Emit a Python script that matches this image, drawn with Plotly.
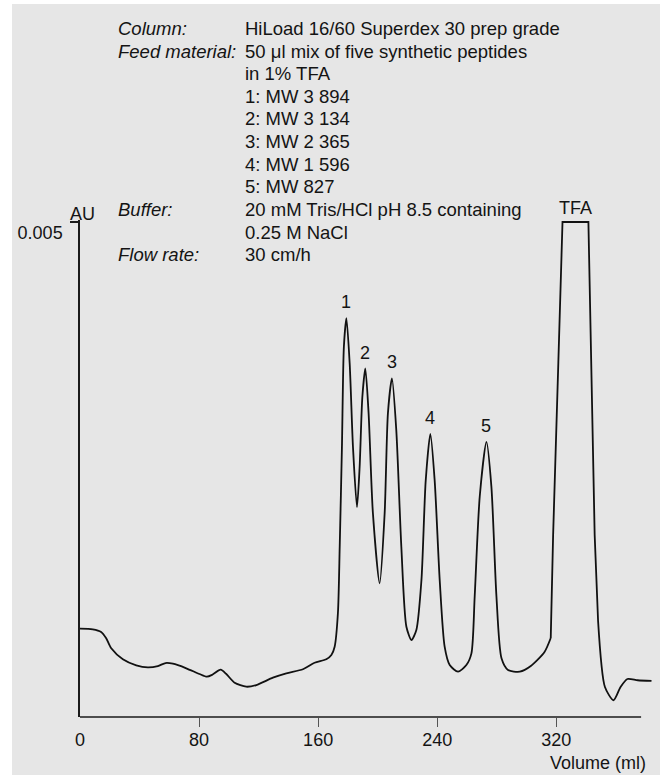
import numpy as np
import plotly.graph_objects as go

# ---------------- data ----------------
volume_ml = [0, 8.6, 14.2, 17.6, 21, 28.8, 37.8, 45.6, 52.3, 57.5, 62.4, 71.4, 80.3, 85.3, 88.9,
             94.5, 98.3, 103.9, 111.7, 118.5, 129.6, 138.6, 149.8, 157.6, 165.5, 168.9,
             171.1, 173.3, 174.5, 176, 177.3, 179, 181.2, 183.4, 186.1, 187.9, 189.7, 191.7,
             193.9, 196.8, 201.3, 204.7, 206.9, 209.6, 212.5, 215.9, 219.3, 222.7, 226,
             229.4, 232.3, 235.4, 238.3, 241.7, 245, 248.4, 254, 259.6, 263, 265.2, 268.6,
             273.1, 276.4, 279.8, 283.2, 287.6, 295.5, 302.9, 312.1, 316.3, 317.9, 321.4,
             324.2, 341.6, 343.5, 345.8, 348.1, 352.7, 358.5, 363.2, 367.8, 374.7, 384]
absorbance_au = [0.000892, 0.000886, 0.000859, 0.000795, 0.000694, 0.000583, 0.000522, 0.000502,
                 0.000515, 0.000545, 0.000538, 0.000492, 0.000434, 0.000407, 0.000427, 0.000478,
                 0.000434, 0.000346, 0.000306, 0.000323, 0.000397, 0.000441, 0.000482, 0.000548,
                 0.000583, 0.000626,
                 0.00071, 0.00105, 0.00172, 0.00273, 0.00374, 0.00403, 0.00357, 0.00273, 0.00212,
                 0.00253, 0.00323, 0.00352, 0.00307, 0.00206, 0.00135, 0.00206, 0.00307, 0.00342,
                 0.0029, 0.00172, 0.000912, 0.000778, 0.000879, 0.00138, 0.00239, 0.00286,
                 0.00239, 0.00138, 0.00071, 0.000525, 0.000458, 0.000525, 0.000643, 0.00122,
                 0.00223, 0.00278, 0.00233, 0.00122, 0.000593, 0.000475, 0.000458, 0.000515,
                 0.000657, 0.000798, 0.00184, 0.00358, 0.005, 0.005, 0.00358, 0.00184, 0.00097,
                 0.000303, 0.000169, 0.000303, 0.000384, 0.000371, 0.000364]

# the saturated TFA peak (detector off-scale) is drawn with straight segments
tfa_start_ml, tfa_end_ml = 316.3, 348.1

peak_labels = ["1", "2", "3", "4", "5", "TFA"]
peak_volumes = [179, 191.7, 209.6, 235.4, 273.1, 333]

x_tick_values = [0, 80, 160, 240, 320]
x_tick_labels = ["0", "80", "160", "240", "320"]
y_tick_values = [0.005]
y_tick_labels = ["0.005"]

info_labels = ["Column:", "Feed material:", "", "", "", "", "", "", "Buffer:", "", "Flow rate:"]
info_values = ["HiLoad 16/60 Superdex 30 prep grade",
               "50 \u03bcl mix of five synthetic peptides",
               "in 1% TFA",
               "1: MW 3 894", "2: MW 3 134", "3: MW 2 365", "4: MW 1 596", "5: MW 827",
               "20 mM Tris/HCl pH 8.5 containing",
               "0.25 M NaCl",
               "30 cm/h"]

# ---------------- layout geometry ----------------
W, H = 660, 777
ML, MR, MT, MB = 80, 7, 220, 60
PW, PH = W - ML - MR, H - MT - MB
X_MAX = 385
Y_MAX = 0.005 * PH / 495.0


def px(x):
    return (x - ML) / PW


def py(y):
    return (MT + PH - y) / PH


FONT = "Liberation Sans, Arial, Helvetica, sans-serif"
TXT = "#141414"
LINE = dict(color="#111111", width=1.8)

i0 = volume_ml.index(tfa_start_ml)
i1 = volume_ml.index(tfa_end_ml)
segments = [
    (volume_ml[:i0 + 1], absorbance_au[:i0 + 1], "spline"),
    (volume_ml[i0:i1 + 1], absorbance_au[i0:i1 + 1], "linear"),
    (volume_ml[i1:], absorbance_au[i1:], "spline"),
]

fig = go.Figure()
for xs, ys, shp in segments:
    fig.add_trace(go.Scatter(
        x=xs, y=ys, mode="lines",
        line=dict(**LINE, shape=shp, **({"smoothing": 0.7} if shp == "spline" else {})),
        hoverinfo="skip", showlegend=False))

annotations = []
# peak labels
peak_heights = np.interp(peak_volumes, volume_ml, absorbance_au)
for lab, vx, vy in zip(peak_labels, peak_volumes, peak_heights):
    annotations.append(dict(x=vx, y=float(vy), xref="x", yref="y", text=lab, showarrow=False,
                            xanchor="center", yanchor="middle",
                            yshift=14 if lab == "TFA" else 16,
                            font=dict(family=FONT, size=18, color=TXT)))

# info block
row_y0, row_dy = 28.6, 22.6
for i, (lab, val) in enumerate(zip(info_labels, info_values)):
    yy = py(row_y0 + i * row_dy)
    if lab:
        annotations.append(dict(x=px(116), y=yy, xref="paper", yref="paper", text="<i>" + lab + "</i>",
                                showarrow=False, xanchor="left", yanchor="middle",
                                font=dict(family=FONT, size=18.5, color=TXT)))
    annotations.append(dict(x=px(243), y=yy, xref="paper", yref="paper", text=val,
                            showarrow=False, xanchor="left", yanchor="middle",
                            font=dict(family=FONT, size=18.5, color=TXT)))

# axis unit labels
annotations.append(dict(x=px(82), y=py(214), xref="paper", yref="paper", text="AU", showarrow=False,
                        xanchor="center", yanchor="middle", font=dict(family=FONT, size=18, color=TXT)))
annotations.append(dict(x=px(648), y=py(763), xref="paper", yref="paper", text="Volume (ml)",
                        showarrow=False, xanchor="right", yanchor="middle",
                        font=dict(family=FONT, size=18, color=TXT)))

shapes = [
    # grey panel
    dict(type="rect", xref="paper", yref="paper", x0=px(12), x1=px(660), y0=py(4), y1=py(775),
         fillcolor="#e6e6e6", line=dict(width=0), layer="below"),
    # x axis line
    dict(type="line", xref="x", yref="paper", x0=0, x1=377, y0=0, y1=0,
         line=dict(color="#1a1a1a", width=1.5)),
]

fig.update_layout(
    width=W, height=H, margin=dict(l=ML, r=MR, t=MT, b=MB),
    paper_bgcolor="white", plot_bgcolor="rgba(0,0,0,0)",
    annotations=annotations, shapes=shapes, showlegend=False,
    font=dict(family=FONT, size=18, color=TXT),
    xaxis=dict(range=[0, X_MAX], showgrid=False, zeroline=False, showline=False,
               tickmode="array", tickvals=x_tick_values, ticktext=x_tick_labels,
               ticks="outside", ticklen=6, tickcolor="rgba(0,0,0,0)",
               minor=dict(tickmode="array", tickvals=x_tick_values[1:], ticks="outside",
                          ticklen=9, tickwidth=1, tickcolor="#555555"),
               tickfont=dict(family=FONT, size=18, color=TXT), fixedrange=True),
    yaxis=dict(range=[0, Y_MAX], showgrid=False, zeroline=False, showline=True,
               linecolor="#1a1a1a", linewidth=1.5,
               tickmode="array", tickvals=y_tick_values, ticktext=y_tick_labels,
               ticks="outside", ticklen=8, tickwidth=1.5, tickcolor="#1a1a1a",
               ticklabelshift=11, ticklabelstandoff=4,
               tickfont=dict(family=FONT, size=18, color=TXT), fixedrange=True),
)

fig.write_html("out.html", config={"displayModeBar": False})
